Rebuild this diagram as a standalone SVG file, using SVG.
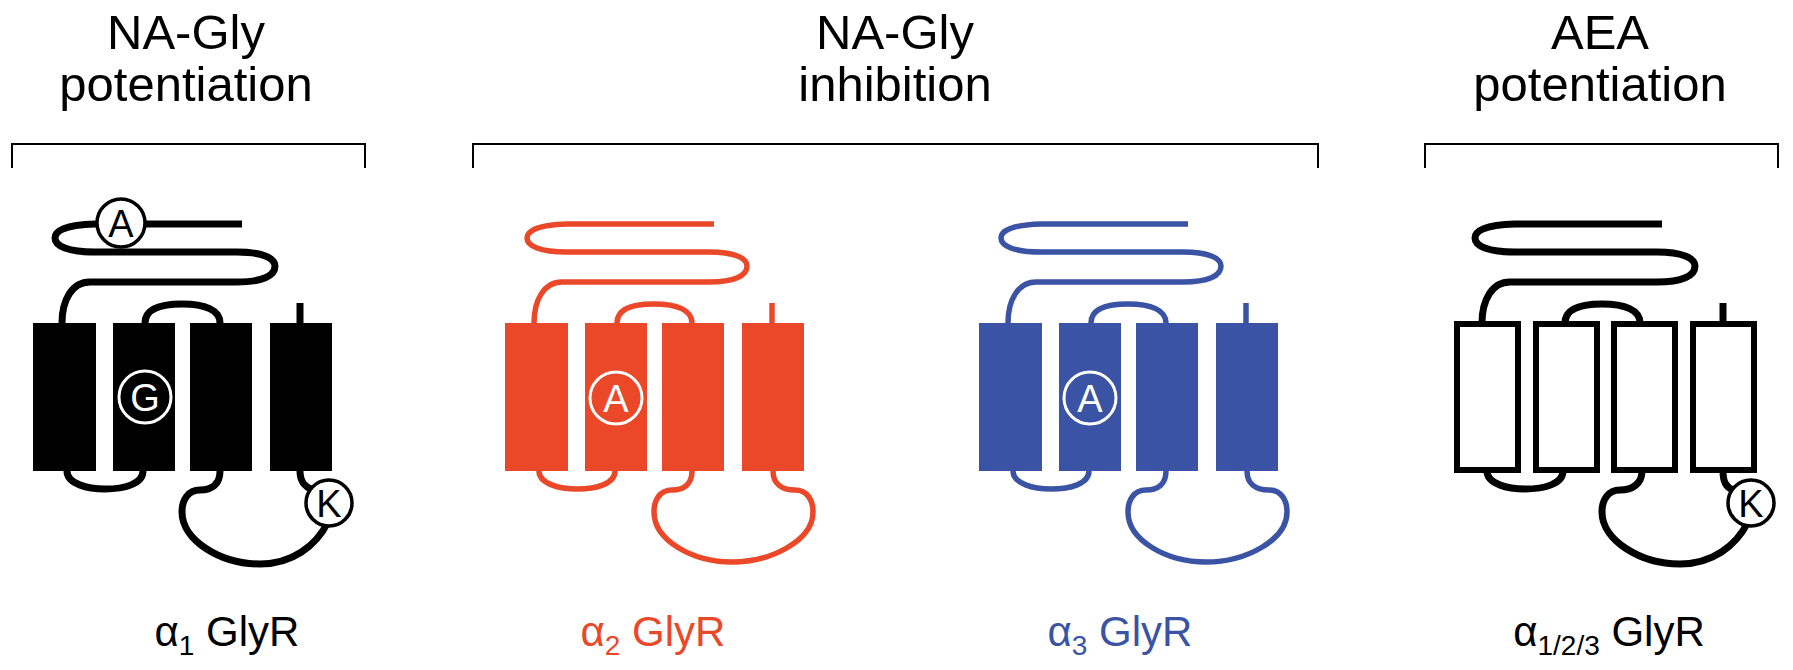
<svg xmlns="http://www.w3.org/2000/svg" width="1793" height="670" viewBox="0 0 1793 670">
<style>
text{font-family:"Liberation Sans",Arial,sans-serif}
.t{font-size:49px;text-anchor:middle;fill:#000}
.lb{font-size:42px;text-anchor:middle}
.br{fill:none;stroke:#000;stroke-width:2}
.ln{fill:none;stroke-linecap:butt}
.k{fill:#000}.kl{stroke:#000;stroke-width:7}
.r{fill:#EA4829}.rl{stroke:#EA4829;stroke-width:5.5}
.b{fill:#3A53A4}.bl{stroke:#3A53A4;stroke-width:5.5}
.open{fill:#fff;stroke:#000;stroke-width:6}
.cw{fill:#fff;stroke:#000;stroke-width:3.5}
.ci{fill:none;stroke:#fff;stroke-width:3}
.ct{font-size:38px;text-anchor:middle}
</style>
<g id="titles">
<text class="t" x="186" y="49">NA-Gly</text><text class="t" x="186" y="101">potentiation</text>
<text class="t" x="895" y="49">NA-Gly</text><text class="t" x="895" y="101">inhibition</text>
<text class="t" x="1600" y="49">AEA</text><text class="t" x="1600" y="101">potentiation</text>
</g>
<g id="brackets">
<path class="br" d="M12,168V144H365V168"/>
<path class="br" d="M473,168V144H1318V168"/>
<path class="br" d="M1425,168V144H1778V168"/>
</g>
<g id="connectors">
<g class="ln kl">
<path d="M242,224H95C62,225 55,232 55,238C55,246 68,252 95,252H237C262,252 275,258 275,266C275,276 262,282 237,282H90C72,282 62,300 62,323"/>
<path d="M145,323C145,309 160,304 182,304C205,304 220,310 220,323"/>
<path d="M300,323V303"/>
<path d="M67,471C67,484 88,489 105,489C124,489 143,484 143,471"/>
<path d="M220,471C220,484 212,490 200,490C188,490 182,500 182,512C182,540 220,564 260,564C292,564 316,546 328,522"/>
<path d="M300,471C300,482 305,487 313,490"/>
</g>
<g class="ln rl" transform="translate(472,0)">
<path d="M242,224H95C62,225 55,232 55,238C55,246 68,252 95,252H237C262,252 275,258 275,266C275,276 262,282 237,282H90C72,282 62,300 62,323"/>
<path d="M145,323C145,309 160,304 182,304C205,304 220,310 220,323"/>
<path d="M300,323V303"/>
<path d="M67,471C67,484 88,489 105,489C124,489 143,484 143,471"/>
<path d="M220,471C220,484 212,490 200,490C188,490 182,500 182,512C182,540 220,562 260,562C300,562 341,540 341,512C341,500 335,490 323,490C310,490 301,484 301,471"/>
</g>
<g class="ln bl" transform="translate(946,0)">
<path d="M242,224H95C62,225 55,232 55,238C55,246 68,252 95,252H237C262,252 275,258 275,266C275,276 262,282 237,282H90C72,282 62,300 62,323"/>
<path d="M145,323C145,309 160,304 182,304C205,304 220,310 220,323"/>
<path d="M300,323V303"/>
<path d="M67,471C67,484 88,489 105,489C124,489 143,484 143,471"/>
<path d="M220,471C220,484 212,490 200,490C188,490 182,500 182,512C182,540 220,562 260,562C300,562 341,540 341,512C341,500 335,490 323,490C310,490 301,484 301,471"/>
</g>
<g class="ln kl" transform="translate(1420,0)">
<path d="M242,224H95C62,225 55,232 55,238C55,246 68,252 95,252H237C262,252 275,258 275,266C275,276 262,282 237,282H90C72,282 62,300 62,323"/>
<path d="M145,323C145,309 160,304 182,304C205,304 220,310 220,323"/>
<path d="M303,323V303"/>
<path d="M67,471C67,484 88,489 105,489C124,489 143,484 143,471"/>
<path d="M222,471C222,484 212,490 200,490C188,490 182,500 182,512C182,540 220,564 260,564C292,564 316,546 328,522"/>
<path d="M303,471C303,482 306,487 313,490"/>
</g>
</g>
<g id="alpha1">
<rect class="k" x="33" y="323" width="63" height="148"/><rect class="k" x="113" y="323" width="62" height="148"/><rect class="k" x="190" y="323" width="62" height="148"/><rect class="k" x="270" y="323" width="62" height="148"/>
<circle class="cw" cx="121" cy="223" r="24"/><text class="ct" x="121" y="237">A</text>
<circle class="ci" cx="145" cy="397" r="26"/><text class="ct" x="145" y="411" fill="#fff">G</text>
<circle class="cw" cx="329" cy="503" r="23"/><text class="ct" x="329" y="517">K</text>
<text class="lb" x="227" y="646"><tspan>α</tspan><tspan font-size="28" dy="9">1</tspan><tspan dy="-9"> GlyR</tspan></text>
</g>
<g id="alpha2">
<g class="r"><rect x="505" y="323" width="63" height="148"/><rect x="585" y="323" width="62" height="148"/><rect x="662" y="323" width="62" height="148"/><rect x="742" y="323" width="62" height="148"/></g>
<circle class="ci" cx="616" cy="398" r="26"/><text class="ct" x="616" y="412" fill="#fff">A</text>
<text class="lb" x="653" y="646" fill="#EA4829"><tspan>α</tspan><tspan font-size="28" dy="9">2</tspan><tspan dy="-9"> GlyR</tspan></text>
</g>
<g id="alpha3">
<g class="b"><rect x="979" y="323" width="63" height="148"/><rect x="1059" y="323" width="62" height="148"/><rect x="1136" y="323" width="62" height="148"/><rect x="1216" y="323" width="62" height="148"/></g>
<circle class="ci" cx="1090" cy="398" r="26"/><text class="ct" x="1090" y="412" fill="#fff">A</text>
<text class="lb" x="1120" y="646" fill="#3A53A4"><tspan>α</tspan><tspan font-size="28" dy="9">3</tspan><tspan dy="-9"> GlyR</tspan></text>
</g>
<g id="alpha123">
<rect class="open" x="1457" y="324" width="61" height="146"/><rect class="open" x="1536" y="324" width="61" height="146"/><rect class="open" x="1614" y="324" width="61" height="146"/><rect class="open" x="1693" y="324" width="61" height="146"/>
<circle class="cw" cx="1751" cy="503" r="23"/><text class="ct" x="1751" y="517">K</text>
<text class="lb" x="1609" y="646"><tspan>α</tspan><tspan font-size="28" dy="9">1/2/3</tspan><tspan dy="-9"> GlyR</tspan></text>
</g>
</svg>
